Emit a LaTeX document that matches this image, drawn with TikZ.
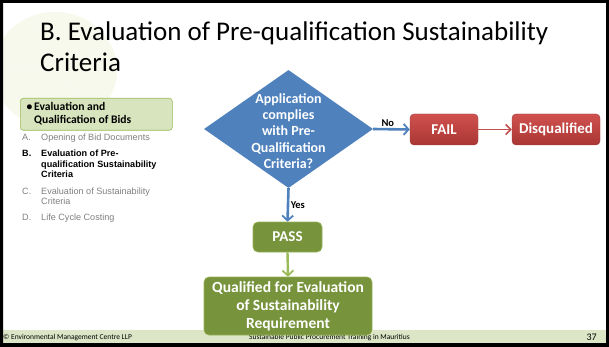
\documentclass[tikz,border=0pt]{standalone}
\usepackage{fontspec}
\setmainfont{Carlito}
\newfontfamily\arialf{Liberation Sans}
\usetikzlibrary{shapes.geometric,arrows.meta}
\definecolor{dblue}{HTML}{4F81BD}
\definecolor{redtop}{HTML}{D0514E}
\definecolor{redbot}{HTML}{A93634}
\definecolor{redline}{HTML}{C0504D}
\definecolor{olive}{HTML}{77933C}
\definecolor{oliveline}{HTML}{9BBB59}
\definecolor{paleg}{HTML}{D7E4BD}
\definecolor{footg}{HTML}{DCE6C6}
\definecolor{greytxt}{HTML}{808080}
\definecolor{leafg}{HTML}{C9DE8A}
\tikzset{
  redbox/.style={rectangle, rounded corners=4pt, top color=redtop, bottom color=redbot, draw=redline!80!black, line width=0.4pt, text=white, font=\fontsize{15}{17}\selectfont\bfseries},
  greenbox/.style={rectangle, rounded corners=5pt, fill=olive, draw=oliveline!80!olive, line width=0.6pt, text=white, font=\fontsize{15}{17}\selectfont\bfseries},
  bluearrow/.style={draw=dblue, line width=2.6pt, -{Straight Barb[length=5pt,width=11pt,line width=1.8pt]}},
  redarrow/.style={draw=redline, line width=1.8pt, -{Straight Barb[length=5pt,width=10pt,line width=1.6pt]}},
  greenarrow/.style={draw=oliveline, line width=2.4pt, -{Straight Barb[length=5pt,width=11pt,line width=1.8pt]}},
  edgelbl/.style={font=\fontsize{10.5}{12}\selectfont\bfseries, text=black, inner sep=1.5pt},
  listtxt/.style={anchor=base west, inner sep=0pt, font=\arialf\fontsize{9.1}{10.5}\selectfont},
  listgrey/.style={listtxt, text=greytxt},
  listbold/.style={listtxt, font=\arialf\fontsize{9.1}{10.5}\selectfont\bfseries},
  paneltxt/.style={anchor=base west, inner sep=0pt, font=\fontsize{11.6}{12}\selectfont\bfseries},
}
\begin{document}
\begin{tikzpicture}[x=1pt,y=-1pt]
\useasboundingbox (0,0) rectangle (609,347);
\fill[white] (0,0) rectangle (609,347);
% faint leaf watermark
\begin{scope}[opacity=0.16]
  \fill[leafg] (55,70) ellipse (62 and 58);
  \fill[white] (55,70) -- (130,30) -- (128,40) -- cycle;
  \fill[white] (55,70) -- (20,0) -- (30,0) -- cycle;
  \fill[white] (55,70) -- (0,60) -- (0,68) -- cycle;
  \fill[white] (55,70) -- (110,130) -- (100,132) -- cycle;
\end{scope}
% footer band
\fill[footg] (0,330) rectangle (609,344);
\node[anchor=west, inner sep=0pt, font=\fontsize{7.5}{8}\selectfont] (foot1) at (3,337.5) {© Environmental Management Centre LLP};
\node[anchor=east, inner sep=0pt, font=\fontsize{7.5}{8}\selectfont] (foot2) at (410,337.5) {Sustainable Public Procurement Training in Mauritius};
\node[anchor=east, inner sep=0pt, font=\fontsize{10}{11}\selectfont] (pg) at (597,337.5) {37};
% frame
\fill[black, even odd rule] (0,0) rectangle (609,347) (3,3) rectangle (606,343);
% title
\node[anchor=base west, inner sep=0pt, font=\fontsize{27}{31}\selectfont] (t1) at (40,41) {B. Evaluation of Pre-qualification Sustainability};
\node[anchor=base west, inner sep=0pt, font=\fontsize{27}{31}\selectfont] (t2) at (40,72) {Criteria};
% left panel
\node[rectangle, rounded corners=3pt, fill=paleg, draw=oliveline, line width=0.6pt, minimum width=152pt, minimum height=32pt, anchor=north west] (panel) at (20,98) {};
\node[paneltxt] (pb) at (26.5,111) {\textbullet};
\node[paneltxt] (p1) at (34,111) {Evaluation and};
\node[paneltxt] (p2) at (34,123.5) {Qualification of Bids};
\node[listgrey] (la) at (22,141) {A.};
\node[listgrey] (la1) at (41,141) {Opening of Bid Documents};
\node[listbold] (lb) at (22,157) {B.};
\node[listbold] (lb1) at (41,157) {Evaluation of Pre-};
\node[listbold] (lb2) at (41,167.5) {qualification Sustainability};
\node[listbold] (lb3) at (41,178) {Criteria};
\node[listgrey] (lc) at (22,194) {C.};
\node[listgrey] (lc1) at (41,194) {Evaluation of Sustainability};
\node[listgrey] (lc2) at (41,204.5) {Criteria};
\node[listgrey] (ld) at (22,220) {D.};
\node[listgrey] (ld1) at (41,220) {Life Cycle Costing};
% flowchart
\node[diamond, fill=dblue, minimum width=169pt, minimum height=118pt, inner sep=0pt] (dec) at (288.5,129) {};
\node[text=white, align=center, inner sep=0pt, font=\fontsize{14}{16.3}\selectfont\bfseries] (dect) at (288.5,131) {Application\\complies\\with Pre-\\Qualification\\Criteria?};
\node[redbox, minimum width=68pt, minimum height=31pt] (fail) at (444,129.5) {FAIL};
\node[redbox, minimum width=88pt, minimum height=31pt] (disq) at (556,129.5) {Disqualified};
\node[greenbox, minimum width=69pt, minimum height=30pt] (pass) at (287.5,237) {PASS};
\node[greenbox, minimum width=168pt, minimum height=58pt, align=center, font=\fontsize{15.5}{18}\selectfont\bfseries] (qual) at (288,306) {Qualified for Evaluation\\of Sustainability\\Requirement};
\draw[bluearrow] (dec.east) -- (fail.west) node[pos=0.4, above, edgelbl] {No};
\draw[redarrow] (fail.east) -- (disq.west);
\draw[bluearrow] (dec.south) -- (pass.north) node[midway, right, edgelbl] {Yes};
\draw[greenarrow] (pass.south) -- (qual.north);
\end{tikzpicture}
\end{document}
